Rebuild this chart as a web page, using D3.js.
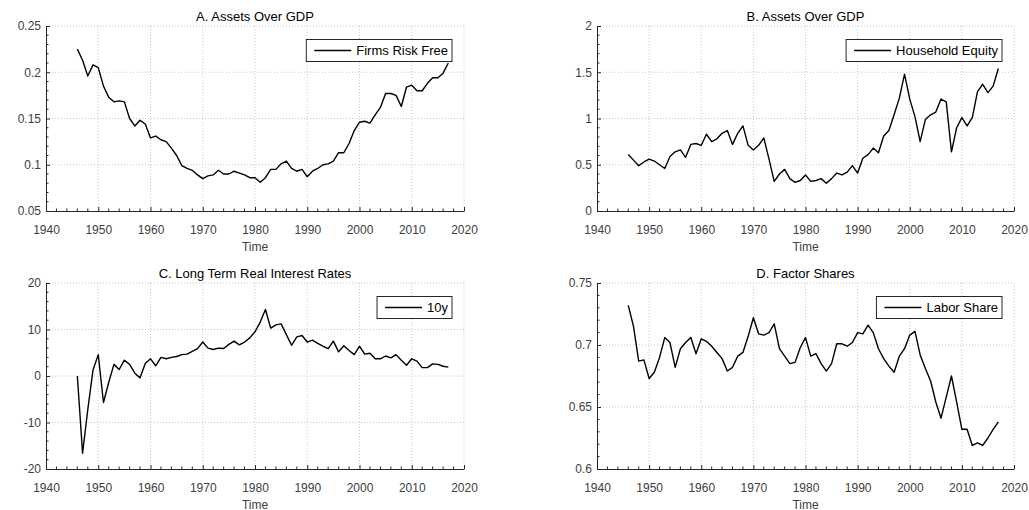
<!DOCTYPE html>
<html>
<head>
<meta charset="utf-8">
<script src="https://cdn.jsdelivr.net/npm/d3@7"></script>
<style>
  body { margin: 0; background: #fff; }
  svg { display: block; font-family: "Liberation Sans", Arial, sans-serif; }
</style>
</head>
<body>
<svg id="chart" width="1029" height="510"></svg>
<script>
// годы наблюдений
const years = [1946, 1947, 1948, 1949, 1950, 1951, 1952, 1953, 1954, 1955, 1956, 1957, 1958, 1959,
  1960, 1961, 1962, 1963, 1964, 1965, 1966, 1967, 1968, 1969, 1970, 1971, 1972, 1973, 1974, 1975,
  1976, 1977, 1978, 1979, 1980, 1981, 1982, 1983, 1984, 1985, 1986, 1987, 1988, 1989, 1990, 1991,
  1992, 1993, 1994, 1995, 1996, 1997, 1998, 1999, 2000, 2001, 2002, 2003, 2004, 2005, 2006, 2007,
  2008, 2009, 2010, 2011, 2012, 2013, 2014, 2015, 2016, 2017];

// A. Firms Risk Free
const firmsRiskFree = [0.225, 0.213, 0.196, 0.208, 0.205, 0.185, 0.173, 0.168, 0.169, 0.168,
  0.150, 0.142, 0.148, 0.144, 0.129, 0.131, 0.127, 0.125, 0.118, 0.110, 0.099, 0.096, 0.094,
  0.089, 0.085, 0.088, 0.089, 0.094, 0.090, 0.090, 0.093, 0.091, 0.089, 0.086, 0.086, 0.081,
  0.086, 0.095, 0.095, 0.101, 0.104, 0.096, 0.093, 0.095, 0.087, 0.093, 0.096, 0.100, 0.101,
  0.104, 0.113, 0.113, 0.123, 0.137, 0.146, 0.147, 0.145, 0.154, 0.162, 0.177, 0.177, 0.175,
  0.163, 0.184, 0.186, 0.180, 0.180, 0.188, 0.194, 0.194, 0.199, 0.210];

// B. Household Equity
const householdEquity = [0.61, 0.55, 0.49, 0.53, 0.56, 0.54, 0.50, 0.46, 0.59, 0.64, 0.66,
  0.58, 0.72, 0.73, 0.71, 0.83, 0.75, 0.78, 0.84, 0.87, 0.72, 0.84, 0.92, 0.71, 0.66, 0.71,
  0.79, 0.56, 0.32, 0.40, 0.45, 0.35, 0.31, 0.33, 0.39, 0.32, 0.33, 0.35, 0.30, 0.35, 0.41,
  0.39, 0.42, 0.49, 0.41, 0.57, 0.61, 0.68, 0.63, 0.81, 0.87, 1.04, 1.22, 1.48, 1.21, 1.02,
  0.75, 0.99, 1.04, 1.07, 1.21, 1.18, 0.64, 0.90, 1.01, 0.92, 1.01, 1.29, 1.37, 1.28, 1.35, 1.54];

// C. 10y real rate
const rate10y = [0.0, -16.6, -7.2, 1.3, 4.6, -5.7, -1.4, 2.5, 1.4, 3.4, 2.5, 0.6, -0.4, 2.7,
  3.7, 2.2, 4.0, 3.7, 4.0, 4.2, 4.6, 4.7, 5.3, 5.9, 7.3, 6.0, 5.7, 6.0, 5.9, 6.8, 7.5, 6.7,
  7.3, 8.2, 9.5, 11.6, 14.3, 10.3, 11.0, 11.2, 8.9, 6.6, 8.4, 8.7, 7.3, 7.7, 7.0, 6.4, 5.9,
  7.5, 5.2, 6.5, 5.5, 4.6, 6.4, 4.7, 4.9, 3.7, 3.7, 4.3, 3.9, 4.6, 3.4, 2.3, 3.7, 3.2, 1.8,
  1.8, 2.6, 2.5, 2.1, 1.9];

// D. Labor Share
const laborShare = [0.732, 0.715, 0.687, 0.688, 0.673, 0.678, 0.690, 0.706, 0.702, 0.682,
  0.697, 0.702, 0.706, 0.693, 0.705, 0.703, 0.699, 0.694, 0.689, 0.679, 0.682, 0.691, 0.694,
  0.707, 0.722, 0.709, 0.708, 0.710, 0.717, 0.697, 0.691, 0.685, 0.686, 0.698, 0.706, 0.691,
  0.693, 0.685, 0.679, 0.685, 0.701, 0.701, 0.699, 0.702, 0.710, 0.709, 0.716, 0.710, 0.697,
  0.689, 0.683, 0.678, 0.691, 0.697, 0.708, 0.711, 0.692, 0.681, 0.671, 0.654, 0.641, 0.658,
  0.675, 0.654, 0.632, 0.632, 0.619, 0.621, 0.619, 0.625, 0.632, 0.638];

const xTicks = [1940, 1950, 1960, 1970, 1980, 1990, 2000, 2010, 2020];

const svg = d3.select('#chart');
const axisColor = '#262626';
const tickText = '#404040';
const gridColor = '#c8c8c8';

// Панели: положение, подписи, шкалы.
const panels = [
  {title: 'A. Assets Over GDP', label: 'Firms Risk Free', values: firmsRiskFree,
   left: 46, right: 464, top: 26, bottom: 211,
   yDomain: [0.05, 0.25], yTicks: [0.05, 0.1, 0.15, 0.2, 0.25], yMinorStep: 0.01},
  {title: 'B. Assets Over GDP', label: 'Household Equity', values: householdEquity,
   left: 597, right: 1014, top: 26, bottom: 211,
   yDomain: [0, 2], yTicks: [0, 0.5, 1, 1.5, 2], yMinorStep: 0.1},
  {title: 'C. Long Term Real Interest Rates', label: '10y', values: rate10y,
   left: 46, right: 464, top: 283, bottom: 469,
   yDomain: [-20, 20], yTicks: [-20, -10, 0, 10, 20], yMinorStep: 2},
  {title: 'D. Factor Shares', label: 'Labor Share', values: laborShare,
   left: 597, right: 1014, top: 283, bottom: 469,
   yDomain: [0.6, 0.75], yTicks: [0.6, 0.65, 0.7, 0.75], yMinorStep: 0.01}
];

panels.forEach(p => {
  const x = d3.scaleLinear().domain([1940, 2020]).range([p.left, p.right]);
  const y = d3.scaleLinear().domain(p.yDomain).range([p.bottom, p.top]);
  const g = svg.append('g');

  // Сетка (пунктир).
  g.selectAll('.gx').data(xTicks.slice(1)).enter().append('line')
    .attr('x1', d => x(d)).attr('x2', d => x(d))
    .attr('y1', p.top).attr('y2', p.bottom)
    .attr('stroke', gridColor).attr('stroke-width', 1).attr('stroke-dasharray', '1,2');
  g.selectAll('.gy').data(p.yTicks.slice(1)).enter().append('line')
    .attr('x1', p.left).attr('x2', p.right)
    .attr('y1', d => y(d)).attr('y2', d => y(d))
    .attr('stroke', gridColor).attr('stroke-width', 1).attr('stroke-dasharray', '1,2');

  // Малые деления.
  const xMinor = d3.range(1940, 2020.001, 2).filter(v => xTicks.indexOf(v) < 0);
  const yMinor = d3.range(p.yDomain[0], p.yDomain[1] + 1e-9, p.yMinorStep)
    .filter(v => !p.yTicks.some(t => Math.abs(t - v) < 1e-9));

  // Ось X.
  const xAxis = g.append('g').attr('transform', `translate(0, ${p.bottom})`)
    .call(d3.axisBottom(x).tickValues(xTicks).tickFormat(d3.format('d'))
      .tickSizeInner(-4).tickSizeOuter(0).tickPadding(14));
  xAxis.select('.domain').attr('stroke', axisColor);
  xAxis.selectAll('.tick line').attr('stroke', axisColor);
  xAxis.selectAll('text').attr('fill', tickText).style('font-size', '12px');
  xAxis.selectAll('.minor').data(xMinor).enter().append('line')
    .attr('x1', d => x(d)).attr('x2', d => x(d)).attr('y1', 0).attr('y2', -2.5)
    .attr('stroke', axisColor);

  // Ось Y.
  const yAxis = g.append('g').attr('transform', `translate(${p.left}, 0)`)
    .call(d3.axisLeft(y).tickValues(p.yTicks).tickFormat(d => +d.toFixed(2))
      .tickSizeInner(-4).tickSizeOuter(0).tickPadding(5));
  yAxis.select('.domain').attr('stroke', axisColor);
  yAxis.selectAll('.tick line').attr('stroke', axisColor);
  yAxis.selectAll('text').attr('fill', tickText).style('font-size', '12px');
  yAxis.selectAll('.minor').data(yMinor).enter().append('line')
    .attr('x1', 0).attr('x2', 2.5).attr('y1', d => y(d)).attr('y2', d => y(d))
    .attr('stroke', axisColor);

  // Заголовок и подпись оси.
  g.append('text').attr('x', (p.left + p.right) / 2).attr('y', p.top - 5)
    .attr('text-anchor', 'middle').style('font-size', '13px').attr('fill', '#000')
    .text(p.title);
  g.append('text').attr('x', (p.left + p.right) / 2).attr('y', p.bottom + 39.5)
    .attr('text-anchor', 'middle').style('font-size', '12px').attr('fill', tickText)
    .text('Time');

  // Линия ряда.
  g.append('path').datum(p.values)
    .attr('fill', 'none').attr('stroke', '#000').attr('stroke-width', 1.4)
    .attr('stroke-linejoin', 'round')
    .attr('d', d3.line().x((d, i) => x(years[i])).y(d => y(d)));

  // Легенда.
  const lg = g.append('g');
  const box = lg.append('rect').attr('height', 22)
    .attr('fill', '#fff').attr('stroke', axisColor).attr('stroke-width', 1);
  lg.append('line').attr('x1', 8).attr('x2', 45).attr('y1', 11).attr('y2', 11)
    .attr('stroke', '#000').attr('stroke-width', 1.4);
  const lt = lg.append('text').attr('x', 50).attr('y', 15.5)
    .style('font-size', '13px').attr('fill', '#000').text(p.label);
  const w = lt.node().getComputedTextLength() + 54;
  box.attr('width', w);
  lg.attr('transform', `translate(${p.right - 12 - w}, ${p.top + 13.5})`);
});
</script>
</body>
</html>
